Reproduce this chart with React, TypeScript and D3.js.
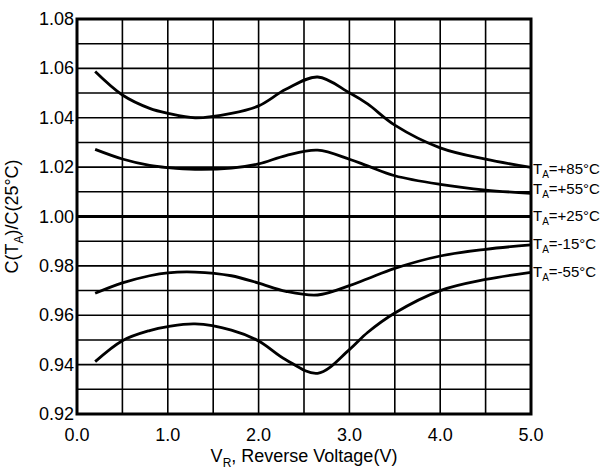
import React, { useEffect, useRef } from 'react';
import * as d3 from 'd3';

// reverse voltage (V)
const vr = [0.2, 0.5, 0.8, 1.0, 1.3, 1.7, 2.0, 2.3, 2.65, 3.0, 3.2, 3.5, 4.0, 4.5, 5.0];

// C(TA)/C(25°C) per temperature
const t85 = [1.0587, 1.0492, 1.0438, 1.0418, 1.04, 1.0418, 1.0448, 1.0515, 1.0565, 1.0501, 1.0456, 1.037, 1.0278, 1.0232, 1.0199];
const t55 = [1.0272, 1.0233, 1.0207, 1.0198, 1.0191, 1.0196, 1.0213, 1.0247, 1.0269, 1.0232, 1.0205, 1.0165, 1.013, 1.0107, 1.0094];
const t25 = [1.0, 1.0, 1.0, 1.0, 1.0, 1.0, 1.0, 1.0, 1.0, 1.0, 1.0, 1.0, 1.0, 1.0, 1.0];
const tm15 = [0.9689, 0.9731, 0.976, 0.9772, 0.9775, 0.976, 0.973, 0.9697, 0.9682, 0.972, 0.9748, 0.979, 0.984, 0.9867, 0.9885];
const tm55 = [0.9412, 0.9497, 0.9538, 0.9554, 0.9565, 0.954, 0.9496, 0.942, 0.9365, 0.9461, 0.953, 0.9609, 0.97, 0.9745, 0.9774];

const labels = ['=+85°C', '=+55°C', '=+25°C', '=-15°C', '=-55°C'];
const labelAt = [1.0173, 1.009, 0.998, 0.987, 0.9755]; // label baseline, in y units

const xTicks = [0, 1, 2, 3, 4, 5];
const yTicks = [0.92, 0.94, 0.96, 0.98, 1.0, 1.02, 1.04, 1.06, 1.08];

const W = 606;
const H = 469;
const FONT = 'Liberation Sans, Arial, sans-serif';

const App = () => {
  const svgRef = useRef<SVGSVGElement>(null);

  useEffect(() => {
    const svg = d3.select(svgRef.current);
    svg.selectAll('*').remove();

    const margin = { top: 19, right: 75, bottom: 55, left: 77 };
    const width = W - margin.left - margin.right;
    const height = H - margin.top - margin.bottom;

    const g = svg.append('g').attr('transform', `translate(${margin.left},${margin.top})`);

    const x = d3.scaleLinear().domain([0, 5]).range([0, width]);
    const y = d3.scaleLinear().domain([0.92, 1.08]).range([height, 0]);

    // grid
    g.append('g')
      .selectAll('line')
      .data(d3.range(0, 5.01, 0.5))
      .enter()
      .append('line')
      .attr('x1', d => x(d))
      .attr('x2', d => x(d))
      .attr('y1', 0)
      .attr('y2', height)
      .attr('stroke', '#000')
      .attr('stroke-width', 1.6);

    g.append('g')
      .selectAll('line')
      .data(d3.range(0, 17).map(i => 0.92 + i * 0.01))
      .enter()
      .append('line')
      .attr('x1', 0)
      .attr('x2', width)
      .attr('y1', d => y(d))
      .attr('y2', d => y(d))
      .attr('stroke', '#000')
      .attr('stroke-width', 1.6);

    // frame
    g.append('rect')
      .attr('width', width)
      .attr('height', height)
      .attr('fill', 'none')
      .attr('stroke', '#000')
      .attr('stroke-width', 3);

    // tick labels
    g.append('g')
      .selectAll('text')
      .data(yTicks)
      .enter()
      .append('text')
      .attr('x', -3)
      .attr('y', d => y(d) + 6)
      .attr('text-anchor', 'end')
      .attr('font-family', FONT)
      .attr('font-size', 18)
      .text(d => d.toFixed(2));

    g.append('g')
      .selectAll('text')
      .data(xTicks)
      .enter()
      .append('text')
      .attr('x', d => x(d))
      .attr('y', height + 27)
      .attr('text-anchor', 'middle')
      .attr('font-family', FONT)
      .attr('font-size', 18)
      .text(d => d.toFixed(1));

    // curves
    const series = [t85, t55, t25, tm15, tm55];
    const line = d3
      .line<number>()
      .x((_, i) => x(vr[i]))
      .y(d => y(d))
      .curve(d3.curveCatmullRom.alpha(0.5));

    series.forEach((s, k) => {
      g.append('path')
        .attr('d', line(s))
        .attr('fill', 'none')
        .attr('stroke', '#000')
        .attr('stroke-width', k === 2 ? 3 : 2.8)
        .attr('stroke-linejoin', 'round');

      const t = g.append('text')
        .attr('x', width + 2)
        .attr('y', y(labelAt[k]))
        .attr('font-family', FONT)
        .attr('font-size', 15);
      t.append('tspan').text('T');
      t.append('tspan').attr('font-size', 10).attr('dy', 4).text('A');
      t.append('tspan').attr('dy', -4).text(labels[k]);
    });

    // +25 line spans the whole width
    g.append('line')
      .attr('x1', 0)
      .attr('x2', width)
      .attr('y1', y(1))
      .attr('y2', y(1))
      .attr('stroke', '#000')
      .attr('stroke-width', 3);

    // axis titles
    const xt = svg.append('text')
      .attr('x', margin.left + width / 2)
      .attr('y', 462)
      .attr('text-anchor', 'middle')
      .attr('font-family', FONT)
      .attr('font-size', 18);
    xt.append('tspan').text('V');
    xt.append('tspan').attr('font-size', 12).attr('dy', 5).text('R');
    xt.append('tspan').attr('dy', -5).text(', Reverse Voltage(V)');

    const yt = svg.append('text')
      .attr('transform', `translate(18,${margin.top + height / 2}) rotate(-90)`)
      .attr('text-anchor', 'middle')
      .attr('font-family', FONT)
      .attr('font-size', 18);
    yt.append('tspan').text('C(T');
    yt.append('tspan').attr('font-size', 12).attr('dy', 5).text('A');
    yt.append('tspan').attr('dy', -5).text(')/C(25°C)');
  }, []);

  return (
    <svg
      ref={svgRef}
      width={W}
      height={H}
      style={{ position: 'absolute', left: 0, top: 0, background: '#fff' }}
    />
  );
};

export default App;
